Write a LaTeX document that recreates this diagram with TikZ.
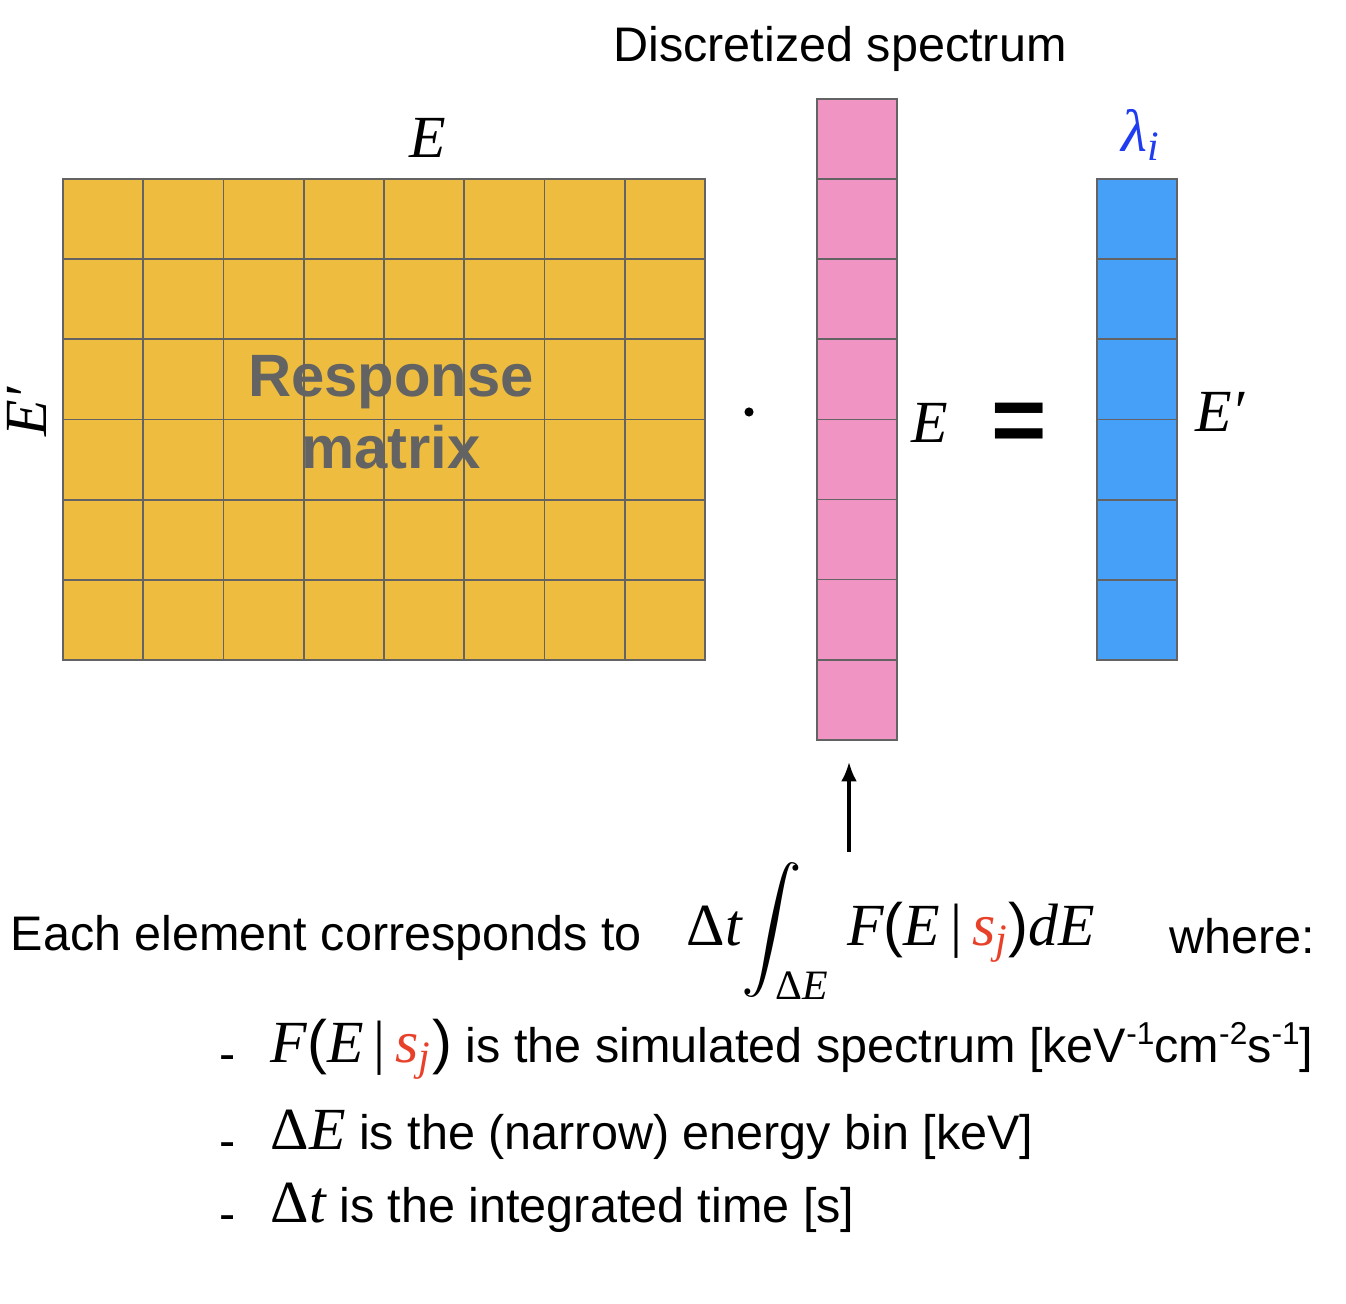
\RequirePackage{fix-cm}
\documentclass[tikz,border=0pt]{standalone}
\usepackage{amsmath}
\usepackage{fontspec}
\setmainfont{Liberation Sans}
\newfontfamily\serif{Liberation Serif}
\usetikzlibrary{calc,arrows,arrows.meta,positioning}

\definecolor{respyellow}{HTML}{EEBD40}
\definecolor{specpink}{HTML}{F094C4}
\definecolor{countblue}{HTML}{47A0F8}
\definecolor{gridgray}{HTML}{636363}
\definecolor{srcred}{HTML}{E8412A}
\definecolor{lamblue}{HTML}{1F3CF0}

\newcommand{\mi}[1]{\text{\serif\itshape #1}}
\newcommand{\mup}[1]{\text{\serif #1}}
\newcommand{\unitexp}[1]{\raisebox{0.7ex}{\fontsize{9}{9}\selectfont #1}}

\tikzset{
  cell/.style={draw=gridgray,line width=0.5pt},
  bigmath/.style={font=\fontsize{17}{20}\selectfont},
  txt/.style={font=\fontsize{13.8}{17}\selectfont},
}

\begin{document}
\begin{tikzpicture}[x=0.01cm,y=-0.01cm]
  \useasboundingbox (0,0) rectangle (1346,1304);

  % response matrix 8x6
  \fill[respyellow] (63,179) rectangle (705,660);
  \foreach \i in {1,...,7} {
    \draw[cell] (63+\i*80.25,179) -- (63+\i*80.25,660);
  }
  \foreach \j in {1,...,5} {
    \draw[cell] (63,179+\j*80.17) -- (705,179+\j*80.17);
  }
  \draw[cell] (63,179) rectangle (705,660);

  % spectrum column (8 bins) and counts column (6 bins)
  \foreach \j in {0,...,7} {
    \draw[cell,fill=specpink] (817,99+\j*80.1) rectangle ++(80,80.1);
  }
  \foreach \j in {0,...,5} {
    \draw[cell,fill=countblue] (1097,179+\j*80.17) rectangle ++(80,80.17);
  }
  \coordinate (specbot) at (857,740);

  \node[txt,anchor=base] (disc) at (840,62) {Discretized spectrum};
  \node[bigmath,anchor=base] (Etop) at (428,158) {\mi{E}};
  \node[bigmath,anchor=base,rotate=90] (Eleft) at (46,412) {\mi{E′}};
  \node[font=\fontsize{17}{20.5}\selectfont\bfseries,text=gridgray,align=center]
    (resp) at (391,412) {Response\\matrix};
  \node[circle,fill,inner sep=0pt,minimum size=2.6pt] (dot) at (749,412) {};
  \node[bigmath,anchor=base] (Espec) at (930,443) {\mi{E}};
  \node[font=\fontsize{27}{30}\selectfont\bfseries,anchor=base] (eq) at (1019,453) {=};
  \node[bigmath,anchor=base] (Ecount) at (1220,432) {\mi{E′}};
  \node[bigmath,anchor=base,text=lamblue] (lam) at (1141,152) {\mi{λ}$_{\mi{i}}$};

  % integral and its legend
  \node[txt,anchor=base west,inner sep=0pt] (each) at (10,950) {Each element corresponds to};
  \node[bigmath,anchor=base west,inner sep=0pt] (integral) at (686,945)
    {\mup{Δ}\mi{t}$\displaystyle\int_{\mup{Δ}\mi{E}}$\hspace{5pt}\mi{F}(\mi{E}\,\mup{|}\,\textcolor{srcred}{\mi{s}$_{\mi{j}}$})\mi{dE}};
  \node[txt,anchor=base west,inner sep=0pt] (where) at (1169,953) {where:};
  \coordinate (arrowfoot) at (849,852);
  \draw[-{Latex[length=5.5pt,width=4.5pt]},line width=0.9pt,shorten >=0.22cm]
    (arrowfoot) -- (arrowfoot |- specbot);

  \foreach \y/\name in {1062/a,1149/b,1222/c} {
    \node[txt,anchor=base] (dash\name) at (228,\y+8) {-};
  }
  \node[txt,anchor=base west,inner sep=0pt] (itemF) at (270,1062)
    {{\fontsize{17}{20}\selectfont\mi{F}(\mi{E}\,\mup{|}\,\textcolor{srcred}{\mi{s}$_{\mi{j}}$})} is the simulated spectrum [keV\unitexp{-1}cm\unitexp{-2}s\unitexp{-1}]};
  \node[txt,anchor=base west,inner sep=0pt] (itemE) at (270,1149)
    {{\fontsize{17}{20}\selectfont\mup{Δ}\mi{E}} is the (narrow) energy bin [keV]};
  \node[txt,anchor=base west,inner sep=0pt] (itemt) at (270,1222)
    {{\fontsize{17}{20}\selectfont\mup{Δ}\mi{t}} is the integrated time [s]};
\end{tikzpicture}
\end{document}
